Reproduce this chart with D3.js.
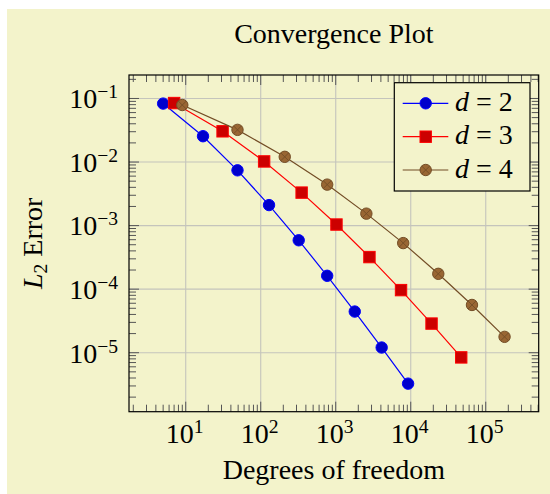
<!DOCTYPE html>
<html>
<head>
<meta charset="utf-8">
<script src="https://cdn.jsdelivr.net/npm/d3@7"></script>
<style>
  html, body { margin: 0; padding: 0; background: #ffffff; }
  svg { display: block; }
  text { font-family: "Liberation Serif", "Times New Roman", serif; fill: #000; }
</style>
</head>
<body>
<div id="chart"></div>
<script>
// ---- Data (from the chart) ----
const seriesNames = ["d = 2", "d = 3", "d = 4"];
const dofD2 = [5, 17, 49, 129, 321, 769, 1793, 4097, 9217];
const errD2 = [8.312e-02, 2.547e-02, 7.407e-03, 2.102e-03, 5.874e-04, 1.623e-04, 4.442e-05, 1.207e-05, 3.261e-06];
const dofD3 = [7, 31, 111, 351, 1023, 2815, 7423, 18943, 47103];
const errD3 = [8.472e-02, 3.044e-02, 1.022e-02, 3.303e-03, 1.039e-03, 3.196e-04, 9.658e-05, 2.873e-05, 8.437e-06];
const dofD4 = [9, 49, 209, 769, 2561, 7937, 23297, 65537, 178177];
const errD4 = [7.891e-02, 3.209e-02, 1.208e-02, 4.414e-03, 1.542e-03, 5.305e-04, 1.743e-04, 5.640e-05, 1.777e-05];
const xTickExps = [1, 2, 3, 4, 5];
const yTickExps = [-1, -2, -3, -4, -5];
const titleText = "Convergence Plot";
const xLabelText = "Degrees of freedom";

// ---- Styles ----
const W = 550, H = 494;
const bg = "#f3f3cb";
const styles = [
  { line: "#0000ff", fill: "#0000cc", mark: "circle" },
  { line: "#ff0000", fill: "#cc0000", mark: "square" },
  { line: "#734d26", fill: "#996633", mark: "otimes" }
];
const series = [
  { name: seriesNames[0], pts: dofD2.map((d, i) => [d, errD2[i]]) },
  { name: seriesNames[1], pts: dofD3.map((d, i) => [d, errD3[i]]) },
  { name: seriesNames[2], pts: dofD4.map((d, i) => [d, errD4[i]]) }
];

const plot = { left: 129, right: 538.7, top: 75, bottom: 411.7 };

// enlarge limits by 10% of log range (as pgfplots does)
const allX = series.flatMap(s => s.pts.map(p => Math.log10(p[0])));
const allY = series.flatMap(s => s.pts.map(p => Math.log10(p[1])));
const xr = d3.extent(allX), yr = d3.extent(allY);
const xe = (xr[1] - xr[0]) * 0.1, ye = (yr[1] - yr[0]) * 0.1;
const x = d3.scaleLog().domain([Math.pow(10, xr[0] - xe), Math.pow(10, xr[1] + xe)]).range([plot.left, plot.right]);
const y = d3.scaleLog().domain([Math.pow(10, yr[0] - ye), Math.pow(10, yr[1] + ye)]).range([plot.bottom, plot.top]);

const svg = d3.select("#chart").append("svg").attr("width", W).attr("height", H);
svg.append("rect").attr("x", 7).attr("y", 9).attr("width", W - 7).attr("height", H - 9).attr("fill", bg);

// minor tick values
function minorTicks(dom) {
  const lo = Math.floor(Math.log10(dom[0])), hi = Math.ceil(Math.log10(dom[1]));
  const out = [];
  for (let k = lo; k <= hi; k++) for (let m = 2; m <= 9; m++) {
    const v = m * Math.pow(10, k);
    if (v > dom[0] && v < dom[1]) out.push(v);
  }
  return out;
}
const xMajor = xTickExps.map(e => Math.pow(10, e));
const yMajor = yTickExps.map(e => Math.pow(10, e));
const xMinor = minorTicks(x.domain());
const yMinor = minorTicks(y.domain());

// grid
const grid = svg.append("g").attr("stroke", "#c4c4bc").attr("stroke-width", 1.1);
xMajor.forEach(v => grid.append("line").attr("x1", x(v)).attr("x2", x(v)).attr("y1", plot.top).attr("y2", plot.bottom));
yMajor.forEach(v => grid.append("line").attr("x1", plot.left).attr("x2", plot.right).attr("y1", y(v)).attr("y2", y(v)));

// ticks (inward, all four sides)
const tk = svg.append("g").attr("stroke", "#555").attr("stroke-width", 1);
const majL = 10, minL = 7;
function xt(v, len) {
  tk.append("line").attr("x1", x(v)).attr("x2", x(v)).attr("y1", plot.bottom).attr("y2", plot.bottom - len);
  tk.append("line").attr("x1", x(v)).attr("x2", x(v)).attr("y1", plot.top).attr("y2", plot.top + len);
}
function yt(v, len) {
  tk.append("line").attr("y1", y(v)).attr("y2", y(v)).attr("x1", plot.left).attr("x2", plot.left + len);
  tk.append("line").attr("y1", y(v)).attr("y2", y(v)).attr("x1", plot.right).attr("x2", plot.right - len);
}
xMinor.forEach(v => xt(v, minL));
xMajor.forEach(v => xt(v, majL));
yMinor.forEach(v => yt(v, minL));
yMajor.forEach(v => yt(v, majL));

// axis frame
svg.append("rect").attr("x", plot.left).attr("y", plot.top)
  .attr("width", plot.right - plot.left).attr("height", plot.bottom - plot.top)
  .attr("fill", "none").attr("stroke", "#000").attr("stroke-width", 1.2);

// tick labels
function powLabel(g, e, xPos, yPos, anchor) {
  const t = g.append("text").attr("x", xPos).attr("y", yPos).attr("text-anchor", anchor).attr("font-size", 28);
  t.append("tspan").text("10");
  t.append("tspan").attr("font-size", 19.6).attr("dy", -10).text(e < 0 ? "\u2212" + (-e) : String(e));
}
const labels = svg.append("g");
xTickExps.forEach(e => powLabel(labels, e, x(Math.pow(10, e)) - 1, 443.3, "middle"));
yTickExps.forEach(e => powLabel(labels, e, 118, y(Math.pow(10, e)) + 9.8, "end"));

// title and axis labels
svg.append("text").attr("x", (plot.left + plot.right) / 2).attr("y", 43.3)
  .attr("text-anchor", "middle").attr("font-size", 28).text(titleText);
svg.append("text").attr("x", (plot.left + plot.right) / 2).attr("y", 479)
  .attr("text-anchor", "middle").attr("font-size", 28).text(xLabelText);
const yl = svg.append("text").attr("transform", `translate(42,${(plot.top + plot.bottom) / 2}) rotate(-90)`)
  .attr("text-anchor", "middle").attr("font-size", 28);
yl.append("tspan").attr("font-style", "italic").text("L");
yl.append("tspan").attr("font-size", 19.6).attr("dy", 4.5).text("2");
yl.append("tspan").attr("dy", -4.5).text("\u00a0Error");

// markers
const R = 5.7;
function drawMark(g, st, cx, cy) {
  if (st.mark === "circle") {
    g.append("circle").attr("cx", cx).attr("cy", cy).attr("r", R).attr("fill", st.fill).attr("stroke", st.line).attr("stroke-width", 1);
  } else if (st.mark === "square") {
    g.append("rect").attr("x", cx - R).attr("y", cy - R).attr("width", 2 * R).attr("height", 2 * R)
      .attr("fill", st.fill).attr("stroke", st.line).attr("stroke-width", 1);
  } else {
    g.append("circle").attr("cx", cx).attr("cy", cy).attr("r", R).attr("fill", st.fill).attr("stroke", st.line).attr("stroke-width", 1);
    const d = R * 0.707;
    g.append("line").attr("x1", cx - d).attr("y1", cy - d).attr("x2", cx + d).attr("y2", cy + d).attr("stroke", st.line).attr("stroke-width", 0.9);
    g.append("line").attr("x1", cx - d).attr("y1", cy + d).attr("x2", cx + d).attr("y2", cy - d).attr("stroke", st.line).attr("stroke-width", 0.9);
  }
}

const line = d3.line().x(d => x(d[0])).y(d => y(d[1]));
series.forEach((s, i) => {
  const st = styles[i];
  const g = svg.append("g");
  g.append("path").attr("d", line(s.pts)).attr("fill", "none").attr("stroke", st.line).attr("stroke-width", 1.2);
  s.pts.forEach(p => drawMark(g, st, x(p[0]), y(p[1])));
});

// legend
const lg = { left: 394.3, top: 82.7, right: 530, bottom: 191 };
svg.append("rect").attr("x", lg.left).attr("y", lg.top).attr("width", lg.right - lg.left).attr("height", lg.bottom - lg.top)
  .attr("fill", bg).attr("stroke", "#000").attr("stroke-width", 1.2);
const rowY = [103.3, 136.7, 170];
series.forEach((s, i) => {
  const st = styles[i];
  const g = svg.append("g");
  g.append("line").attr("x1", 402.7).attr("x2", 448.3).attr("y1", rowY[i]).attr("y2", rowY[i]).attr("stroke", st.line).attr("stroke-width", 1.2);
  drawMark(g, st, 425.7, rowY[i]);
  const parts = s.name.split(" = ");
  const t = g.append("text").attr("x", 455).attr("y", rowY[i] + 7.5).attr("font-size", 28);
  t.append("tspan").attr("font-style", "italic").text(parts[0]);
  t.append("tspan").attr("dx", 7).text("=");
  t.append("tspan").attr("dx", 7).text(parts[1]);
});
</script>
</body>
</html>
